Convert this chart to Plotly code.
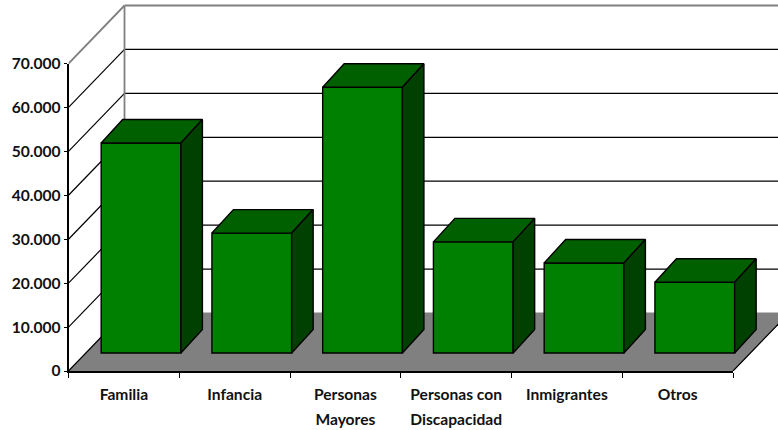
import plotly.graph_objects as go

categories = ["Familia", "Infancia", "Personas", "Personas con", "Inmigrantes", "Otros"]
second_lines = {2: "Mayores", 3: "Discapacidad"}
values = [47800, 27300, 60500, 25300, 20500, 16100]
y_ticks = [0, 10000, 20000, 30000, 40000, 50000, 60000, 70000]

FONT = dict(family="Lato, Carlito, sans-serif", size=15.6, color="#111111", weight="bold")
W, H = 778, 430
LEFT, RIGHT_AXIS, TOP_AXIS, ZERO = 68.5, 733.0, 63.5, 371.0
X_PX = (RIGHT_AXIS - LEFT) / 6
Y_PX = (ZERO - TOP_AXIS) / 70000
Y_MAX = 70000
X_MIN, X_MAX = -0.5, 5.5
# wide, hidden coordinate system that shares the units of the visible axes
X_WIDE = X_MAX + (W - RIGHT_AXIS) / X_PX
Y_WIDE = ZERO / Y_PX
WALL_X = 56 / X_PX
WALL_Y = 58 / Y_PX
BAR_SHIFT = 0.155
BAR_W = 0.72
BAR_BASE = 18 / Y_PX
BAR_DX = 21.5 / X_PX
BAR_DY = 23.5 / Y_PX
idx = list(range(len(categories)))

FRONT, TOP, SIDE = "#008000", "#006000", "#004000"
GRAY = "#808080"

fig = go.Figure()


def line(xs, ys, color="#000000", width=1.2):
    fig.add_trace(go.Scatter(x=xs, y=ys, mode="lines", hoverinfo="skip",
                             showlegend=False, line=dict(color=color, width=width)))


# floor
fig.add_trace(go.Scatter(
    x=[X_MIN, X_MIN + WALL_X, X_MAX + WALL_X, X_MAX, X_MIN],
    y=[0, WALL_Y, WALL_Y, 0, 0], mode="lines", fill="toself", fillcolor=GRAY,
    line=dict(color=GRAY, width=1), hoverinfo="skip", showlegend=False))

# walls
for t in y_ticks:
    col = GRAY if t == Y_MAX else "#000000"
    w = 1.8 if t == Y_MAX else 1.2
    line([X_MIN, X_MIN + WALL_X], [t, t + WALL_Y], col, w)
    if t > 0:
        line([X_MIN + WALL_X, X_MAX + WALL_X], [t + WALL_Y, t + WALL_Y], col, w)
line([X_MIN + WALL_X, X_MIN + WALL_X], [WALL_Y, Y_MAX + WALL_Y], GRAY, 1.8)
line([X_MAX, X_MAX + WALL_X], [0, WALL_Y], "#000000", 1.2)

# front faces
fig.add_trace(go.Bar(
    x=[i + BAR_SHIFT for i in idx], y=values, base=BAR_BASE, width=BAR_W,
    marker=dict(color=FRONT, line=dict(color="#000000", width=1.4)),
    xaxis="x2", yaxis="y2", showlegend=False,
    customdata=categories, hovertemplate="%{customdata}: %{y:,d}<extra></extra>"))

# top and side faces
for i, v in zip(idx, values):
    l = i + BAR_SHIFT - BAR_W / 2
    r = i + BAR_SHIFT + BAR_W / 2
    top = BAR_BASE + v
    for xs, ys, color in [
        ([l, l + BAR_DX, r + BAR_DX, r, l], [top, top + BAR_DY, top + BAR_DY, top, top], TOP),
        ([r, r + BAR_DX, r + BAR_DX, r, r], [top, top + BAR_DY, BAR_BASE + BAR_DY, BAR_BASE, top], SIDE),
    ]:
        fig.add_trace(go.Scatter(x=xs, y=ys, mode="lines", fill="toself", fillcolor=color,
                                 line=dict(color="#000000", width=1.4),
                                 xaxis="x2", yaxis="y2", hoverinfo="skip", showlegend=False))

# invisible carriers so the visible axes exist
fig.add_trace(go.Scatter(x=idx, y=values, mode="markers", marker=dict(opacity=0), xaxis="x3", yaxis="y3",
                         hoverinfo="skip", showlegend=False))
fig.add_trace(go.Scatter(x=idx, y=values, mode="markers", marker=dict(opacity=0), xaxis="x4", yaxis="y3",
                         hoverinfo="skip", showlegend=False))

hidden = dict(visible=False, showgrid=False, zeroline=False)
dom_x = [LEFT / W, 1]
dom_y = [(H - ZERO) / H, 1]
vis_x = [LEFT / W, RIGHT_AXIS / W]
vis_y = [(H - ZERO) / H, (H - TOP_AXIS) / H]

fig.update_layout(
    width=W, height=H,
    margin=dict(l=0, r=0, t=0, b=0, autoexpand=False),
    paper_bgcolor="#ffffff", plot_bgcolor="rgba(0,0,0,0)",
    separators=",.", showlegend=False, font=FONT,
    xaxis=dict(hidden, domain=dom_x, range=[X_MIN, X_WIDE], anchor="y"),
    yaxis=dict(hidden, domain=dom_y, range=[0, Y_WIDE], anchor="x"),
    xaxis2=dict(hidden, overlaying="x", range=[X_MIN, X_WIDE], anchor="y2"),
    yaxis2=dict(hidden, overlaying="y", range=[0, Y_WIDE], anchor="x2"),
    xaxis3=dict(domain=vis_x, anchor="y3", range=[X_MIN, X_MAX], tickmode="array", tickvals=idx,
                ticktext=categories, ticks="outside", ticklen=9, tickcolor="rgba(0,0,0,0)",
                showgrid=False, zeroline=False, showline=True, linecolor="#000000", linewidth=1.5,
                tickfont=FONT, tickangle=0,
                minor=dict(tickmode="array", tickvals=[X_MIN + k for k in range(7)], ticks="outside",
                           ticklen=5, tickcolor="#000000", tickwidth=1.3, showgrid=False)),
    yaxis3=dict(domain=vis_y, anchor="x3", range=[0, Y_MAX], tickmode="array", tickvals=y_ticks,
                tickformat=",d", ticks="outside", ticklen=3, tickcolor="#000000", tickwidth=1.3,
                showgrid=False, zeroline=False, showline=True, linecolor="#000000", linewidth=1.5,
                tickfont=FONT),
    xaxis4=dict(overlaying="x3", anchor="y3", range=[X_MIN, X_MAX], tickmode="array",
                tickvals=list(second_lines), ticktext=list(second_lines.values()),
                ticks="outside", ticklen=34, tickcolor="rgba(0,0,0,0)", showgrid=False, zeroline=False,
                showline=False, tickfont=FONT, tickangle=0),
)

fig.write_html("out.html", config=dict(displayModeBar=False),
               post_script="document.body.style.margin='0';")
